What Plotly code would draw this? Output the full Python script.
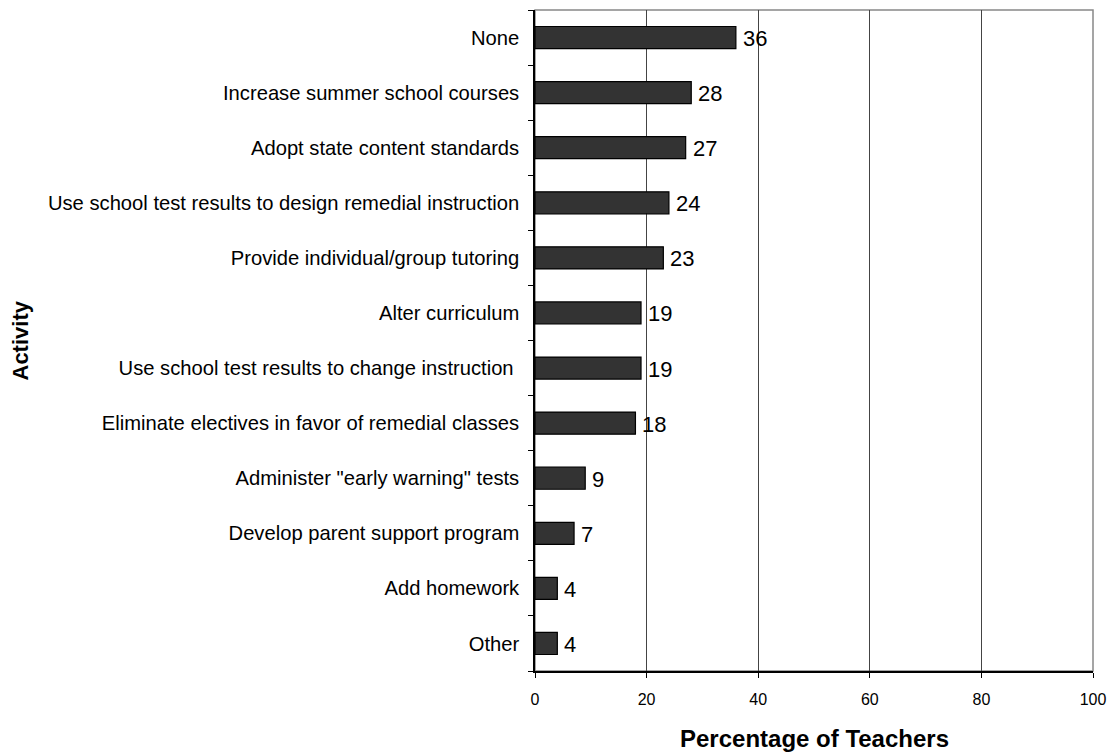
import plotly.graph_objects as go

activities = [
    "None",
    "Increase summer school courses",
    "Adopt state content standards",
    "Use school test results to design remedial instruction",
    "Provide individual/group tutoring",
    "Alter curriculum",
    "Use school test results to change instruction ",
    "Eliminate electives in favor of remedial classes",
    "Administer \"early warning\" tests",
    "Develop parent support program",
    "Add homework",
    "Other",
]
percentages = [36, 28, 27, 24, 23, 19, 19, 18, 9, 7, 4, 4]
x_ticks = [0, 20, 40, 60, 80, 100]

FONT = "Liberation Sans, Arial, sans-serif"

PLOT_L, PLOT_R, PLOT_T, PLOT_B = 535, 1093, 10, 671
PLOT_W = PLOT_R - PLOT_L
PLOT_H = PLOT_B - PLOT_T

fig = go.Figure(
    go.Bar(
        y=activities,
        x=percentages,
        orientation="h",
        width=0.4,
        marker=dict(color="#333333", line=dict(color="#000000", width=1.2)),
        hoverinfo="x+y",
    )
)

# value labels just past the end of each bar
for act, val in zip(activities, percentages):
    fig.add_annotation(
        x=val, y=act, xref="x", yref="y",
        text=str(val), showarrow=False,
        xanchor="left", yanchor="middle", xshift=5, yshift=-1,
        font=dict(family=FONT, size=22, color="#000000"),
    )

# axis titles
fig.add_annotation(
    text="<b>Activity</b>",
    xref="paper", yref="paper",
    x=-(PLOT_L - 20) / PLOT_W, y=0.5,
    textangle=-90, showarrow=False,
    xanchor="center", yanchor="middle",
    font=dict(size=22, family=FONT, color="#000000"),
)
fig.add_annotation(
    text="<b>Percentage of Teachers</b>",
    xref="paper", yref="paper",
    x=0.5, y=-(738 - PLOT_B) / PLOT_H,
    showarrow=False,
    xanchor="center", yanchor="middle",
    font=dict(size=24, family=FONT, color="#000000"),
)

# light grey frame on top/right, black axis lines left/bottom
fig.add_shape(
    type="rect", xref="paper", yref="paper", x0=0, x1=1, y0=0, y1=1,
    line=dict(color="#888888", width=1.5), layer="below",
)

fig.update_layout(
    width=1117,
    height=752,
    margin=dict(l=PLOT_L, r=1117 - PLOT_R, t=PLOT_T, b=752 - PLOT_B),
    paper_bgcolor="white",
    plot_bgcolor="white",
    showlegend=False,
    font=dict(family=FONT, color="#000000"),
    xaxis=dict(
        range=[0, 100],
        tickvals=x_ticks,
        ticktext=[str(v) for v in x_ticks],
        tickfont=dict(size=16),
        ticks="outside",
        ticklen=5,
        tickcolor="#000000",
        ticklabelstandoff=8,
        showgrid=True,
        gridcolor="#444444",
        gridwidth=1,
        zeroline=False,
        showline=True,
        linecolor="#000000",
        linewidth=1.5,
        automargin=False,
    ),
    yaxis=dict(
        categoryorder="array",
        categoryarray=activities[::-1],
        autorange=False,
        range=[-0.5, len(activities) - 0.5],
        tickfont=dict(size=20.2),
        ticks="outside",
        tickson="boundaries",
        ticklen=5,
        tickcolor="#000000",
        showgrid=False,
        showline=True,
        linecolor="#000000",
        linewidth=1.5,
        ticklabelstandoff=10,
        automargin=False,
    ),
)

fig.write_html("out.html")
